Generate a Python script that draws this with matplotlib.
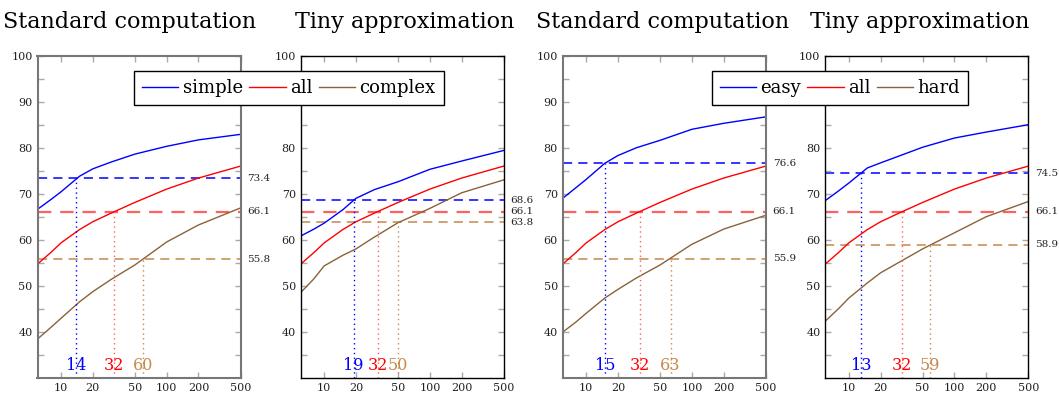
import numpy as np
import matplotlib.pyplot as plt

plt.rcParams['font.family'] = ['DejaVu Serif']

# subset sizes on the x axis
x = [6, 8, 10, 15, 20, 30, 50, 100, 200, 500]

# accuracy curves
all_acc = [54.7, 57.2, 59.3, 62.2, 63.9, 65.8, 68.1, 71.0, 73.4, 76.0]
std_simple = [66.6, 68.7, 70.4, 73.8, 75.4, 76.9, 78.6, 80.3, 81.7, 82.9]
std_complex = [38.4, 40.9, 42.9, 46.5, 48.7, 51.4, 54.5, 59.5, 63.2, 66.9]
tiny_simple = [60.8, 62.3, 63.6, 66.5, 69.0, 70.9, 72.6, 75.3, 77.1, 79.4]
tiny_complex = [48.5, 51.5, 54.3, 56.6, 58.0, 60.6, 63.7, 66.8, 70.2, 73.0]
std_easy = [69.0, 71.3, 73.1, 76.6, 78.3, 80.0, 81.6, 84.0, 85.3, 86.7]
std_hard = [39.9, 42.1, 44.0, 47.3, 49.2, 51.7, 54.5, 59.0, 62.3, 65.3]
tiny_easy = [68.5, 70.6, 72.3, 75.6, 76.7, 78.2, 80.1, 82.1, 83.4, 85.0]
tiny_hard = [42.3, 45.0, 47.3, 50.6, 52.8, 55.1, 58.0, 61.5, 65.0, 68.3]

titles = ["Standard computation", "Tiny approximation",
          "Standard computation", "Tiny approximation"]
panels = [(std_simple, std_complex), (tiny_simple, tiny_complex),
          (std_easy, std_hard), (tiny_easy, tiny_hard)]
legend_names = [("simple", "all", "complex"), ("easy", "all", "hard")]

# reference levels (blue, red, brown) and where each curve reaches them
levels = [[73.4, 66.1, 55.8], [68.6, 66.1, 63.8], [76.6, 66.1, 55.9], [74.5, 66.1, 58.9]]
cross = [[14, 32, 60], [19, 32, 50], [15, 32, 63], [13, 32, 59]]

line_cols = ['#0000ff', '#ff0000', '#8a6238']
level_cols = ['#0000ff', '#ff6060', '#c8884a']
text_cols = ['#0000ff', '#ff0000', '#c8894c']

W, H = 1059, 396
lefts = [37.5, 300.7, 562.7, 825.3]
title_x = [130, 405, 663, 920]
legend_x = [289, 840]
fig = plt.figure(figsize=(W / 100, H / 100), dpi=100)

for i in range(4):
    ax = fig.add_axes([lefts[i] / W, (H - 377.7) / H, 203 / W, 322 / H])
    top, bottom = panels[i]
    l1, = ax.plot(x, top, color=line_cols[0], lw=1.0)
    l2, = ax.plot(x, all_acc, color=line_cols[1], lw=1.0)
    l3, = ax.plot(x, bottom, color=line_cols[2], lw=1.0)

    for k in range(3):
        lw = 1.6 if k == 1 else 1.1
        ax.axhline(levels[i][k], color=level_cols[k], ls=(0, (6, 4)), lw=lw, zorder=1)
        ax.plot([cross[i][k], cross[i][k]], [30, levels[i][k]], color=level_cols[k],
                ls=(0, (1, 2.5)), lw=1.0)
        ax.text(cross[i][k], 31.6, str(cross[i][k]), color=text_cols[k],
                ha='center', va='baseline', fontsize=11.5)
        ax.annotate(f"{levels[i][k]:.1f}", xy=(1, levels[i][k]),
                    xycoords=ax.get_yaxis_transform(), xytext=(5, 0),
                    textcoords='offset points', va='center', ha='left',
                    fontsize=7.5, color='#222222')

    ax.set_xscale('log')
    ax.set_xlim(6, 500)
    ax.set_ylim(30, 100)
    ax.set_xticks([10, 20, 50, 100, 200, 500])
    ax.set_xticklabels(['10', '20', '50', '100', '200', '500'])
    ax.xaxis.set_minor_locator(plt.NullLocator())
    ax.set_yticks(range(40, 101, 10))
    ax.set_yticks(range(35, 100, 5), minor=True)
    ax.tick_params(which='both', direction='in', top=True, right=True,
                   length=4, width=1, color='#aaaaaa', labelsize=8, labelcolor='#222222')
    spine_col = '#777777' if i % 2 == 0 else 'black'
    spine_w = 1.5 if i % 2 == 0 else 1.0
    for s in ax.spines.values():
        s.set_color(spine_col)
        s.set_linewidth(spine_w)

    fig.text(title_x[i] / W, 1 - 28 / H, titles[i], ha='center', va='baseline', fontsize=16)

    if i % 2 == 0:
        names = legend_names[i // 2]
        fig.legend([l1, l2, l3], names, loc='center',
                   bbox_to_anchor=(legend_x[i // 2] / W, 1 - 88 / H),
                   ncol=3, fontsize=13, frameon=True, fancybox=False,
                   edgecolor='black', framealpha=1, handlelength=2.0,
                   handletextpad=0.25, columnspacing=0.35, borderpad=0.45,
                   borderaxespad=0)

fig.savefig("out.png", dpi=100)
